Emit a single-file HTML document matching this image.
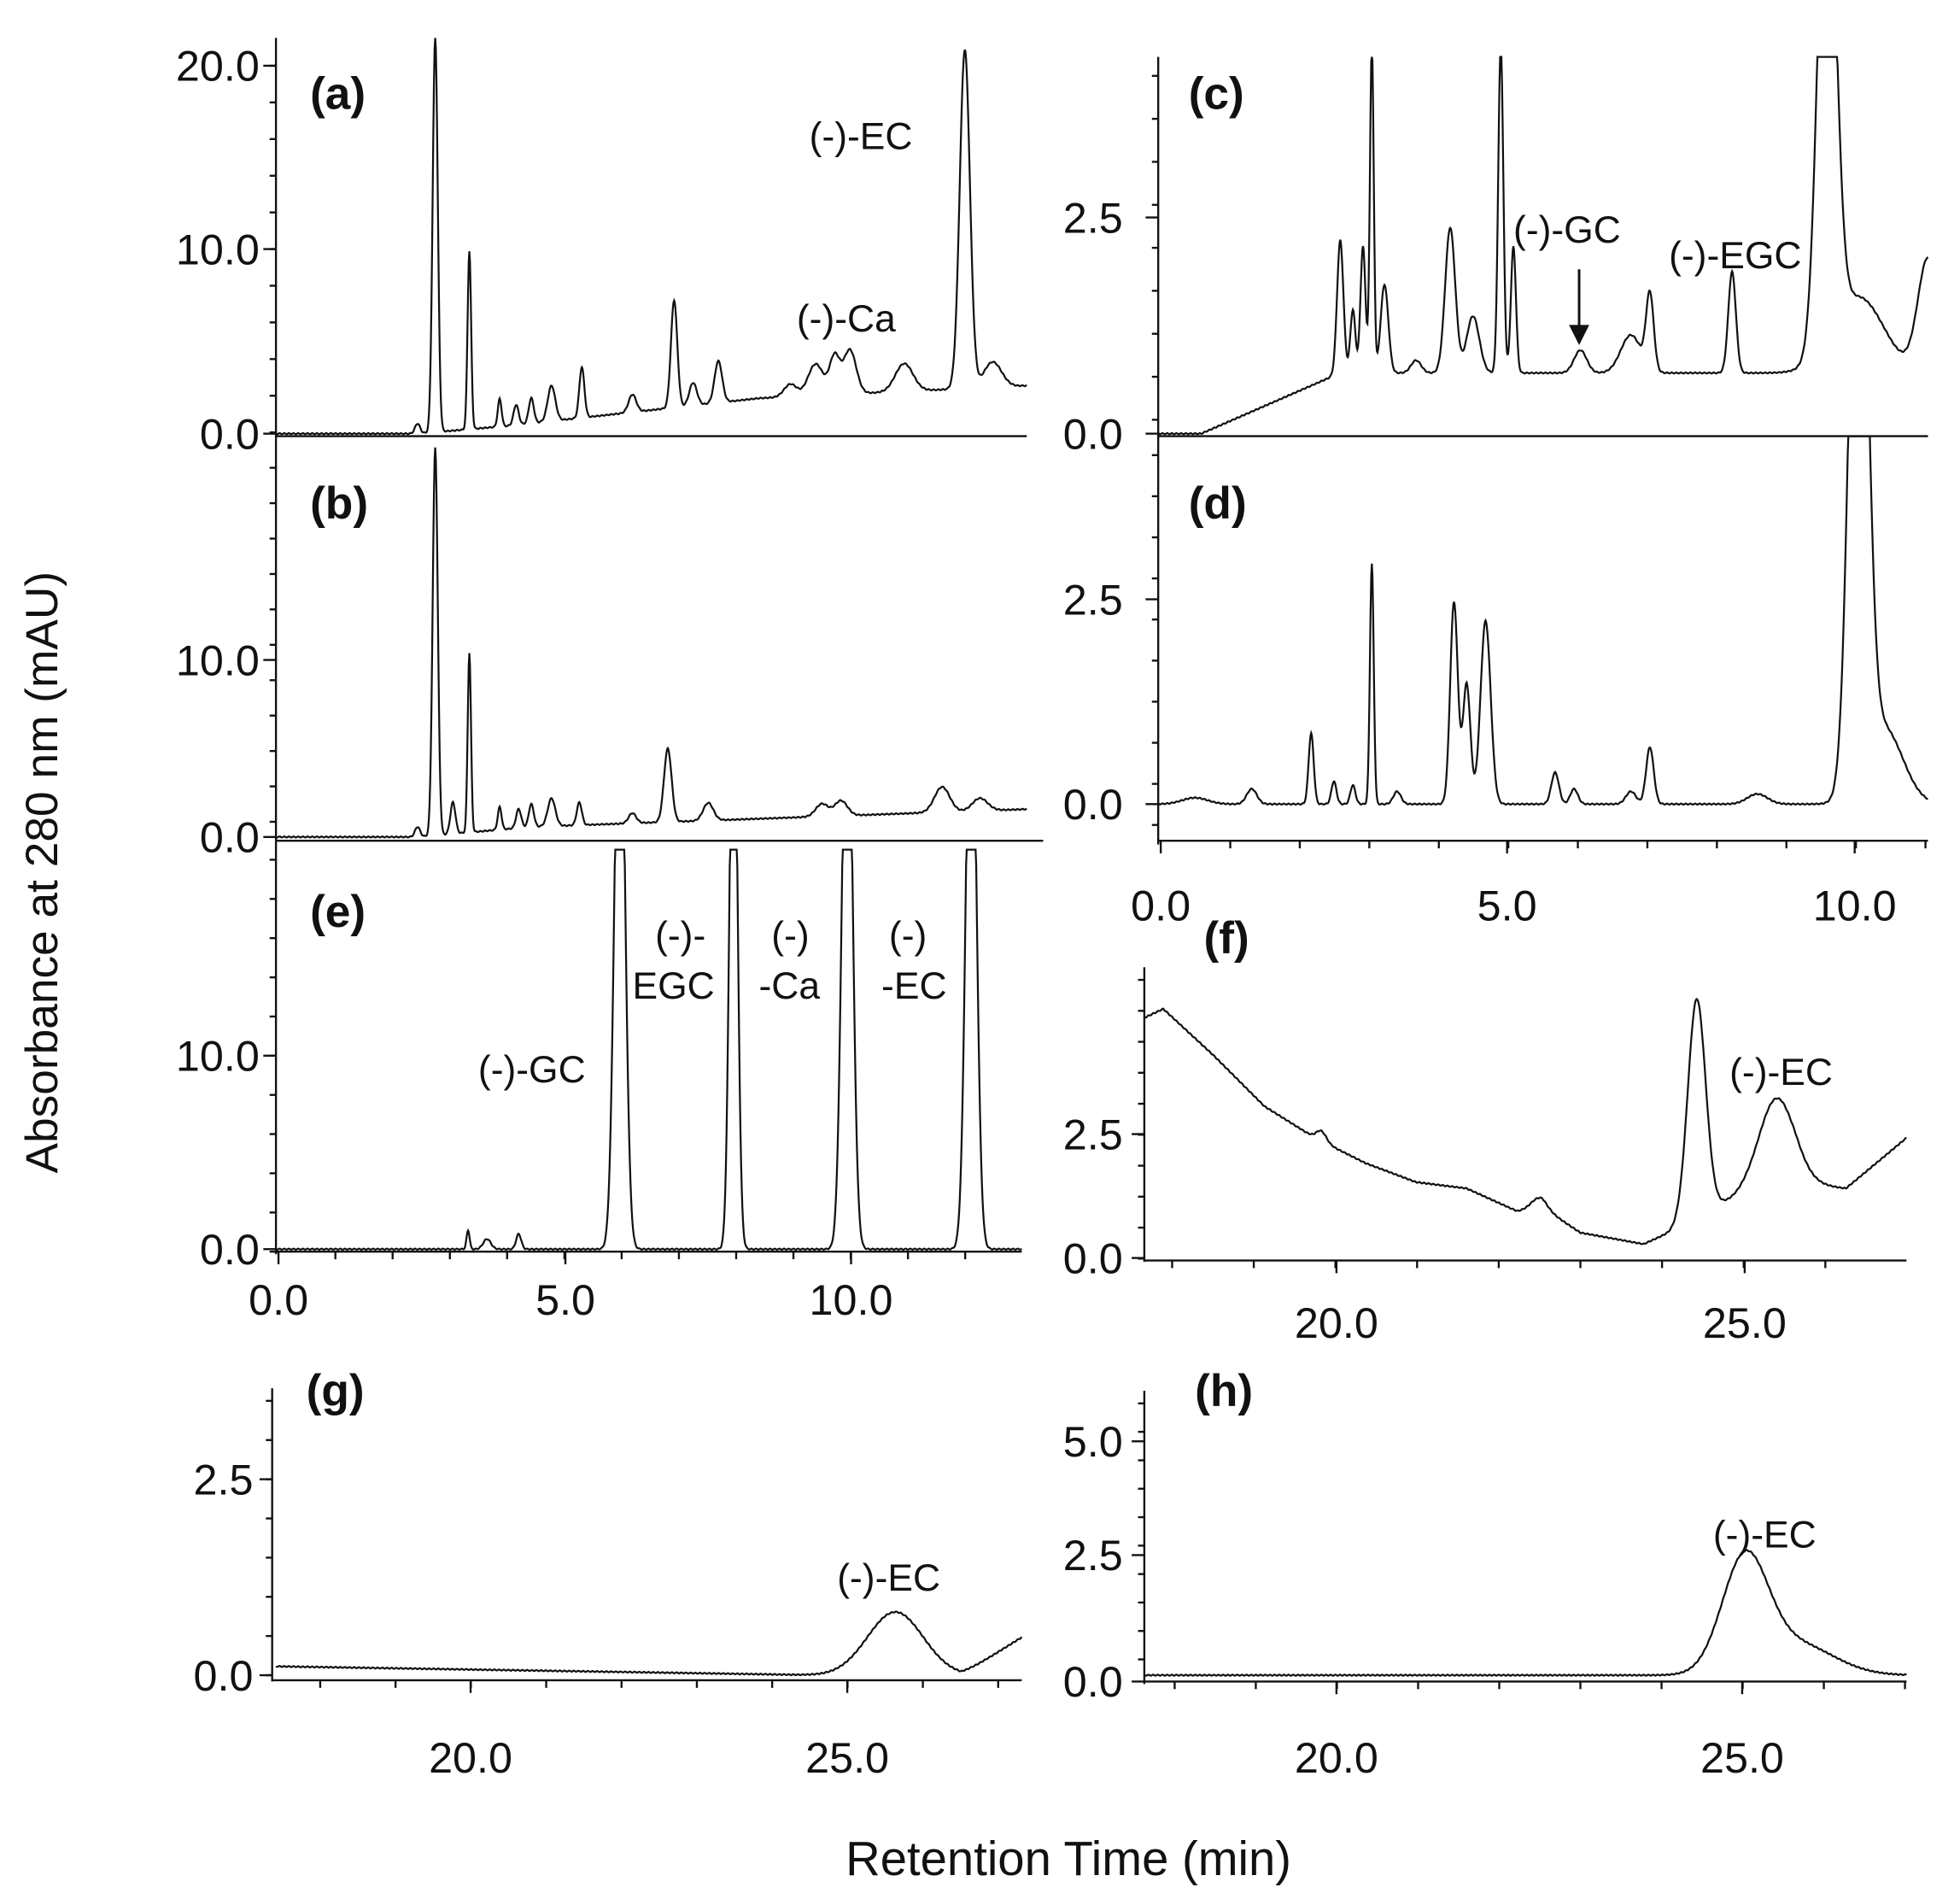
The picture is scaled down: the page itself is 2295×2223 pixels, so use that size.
<!DOCTYPE html>
<html><head><meta charset="utf-8"><style>
html,body{margin:0;padding:0;background:#fff;}
svg{display:block;}
text{font-family:"Liberation Sans",sans-serif;fill:#111;}
.t{font-size:34px;}
.l{font-size:30px;}
.p{font-size:36px;font-weight:bold;}
</style></head><body>
<svg id="s" width="2295" height="2223" viewBox="0 0 1550 1502" xmlns="http://www.w3.org/2000/svg">
<g id="axes" stroke="#111" stroke-width="1.6" fill="none"></g>
<g id="tr" stroke="#111" stroke-width="1.5" fill="none"></g>
<!-- tick labels -->
<text class="t" x="205" y="64" text-anchor="end">20.0</text>
<text class="t" x="205" y="209" text-anchor="end">10.0</text>
<text class="t" x="205" y="355" text-anchor="end">0.0</text>
<text class="t" x="205" y="534" text-anchor="end">10.0</text>
<text class="t" x="205" y="674" text-anchor="end">0.0</text>
<text class="t" x="205" y="847" text-anchor="end">10.0</text>
<text class="t" x="205" y="1000" text-anchor="end">0.0</text>
<text class="t" x="220" y="1040" text-anchor="middle">0.0</text>
<text class="t" x="447" y="1040" text-anchor="middle">5.0</text>
<text class="t" x="673" y="1040" text-anchor="middle">10.0</text>
<text class="t" x="888" y="184" text-anchor="end">2.5</text>
<text class="t" x="888" y="355" text-anchor="end">0.0</text>
<text class="t" x="888" y="486" text-anchor="end">2.5</text>
<text class="t" x="888" y="648" text-anchor="end">0.0</text>
<text class="t" x="918" y="728" text-anchor="middle">0.0</text>
<text class="t" x="1192" y="728" text-anchor="middle">5.0</text>
<text class="t" x="1467" y="728" text-anchor="middle">10.0</text>
<text class="t" x="888" y="909" text-anchor="end">2.5</text>
<text class="t" x="888" y="1007" text-anchor="end">0.0</text>
<text class="t" x="1057" y="1058" text-anchor="middle">20.0</text>
<text class="t" x="1380" y="1058" text-anchor="middle">25.0</text>
<text class="t" x="200" y="1182" text-anchor="end">2.5</text>
<text class="t" x="200" y="1337" text-anchor="end">0.0</text>
<text class="t" x="372" y="1402" text-anchor="middle">20.0</text>
<text class="t" x="670" y="1402" text-anchor="middle">25.0</text>
<text class="t" x="888" y="1152" text-anchor="end">5.0</text>
<text class="t" x="888" y="1242" text-anchor="end">2.5</text>
<text class="t" x="888" y="1342" text-anchor="end">0.0</text>
<text class="t" x="1057" y="1402" text-anchor="middle">20.0</text>
<text class="t" x="1378" y="1402" text-anchor="middle">25.0</text>
<!-- panel letters -->
<text class="p" x="245" y="86">(a)</text>
<text class="p" x="245" y="410">(b)</text>
<text class="p" x="245" y="733">(e)</text>
<text class="p" x="940" y="86">(c)</text>
<text class="p" x="940" y="410">(d)</text>
<text class="p" x="952" y="754">(f)</text>
<text class="p" x="242" y="1112">(g)</text>
<text class="p" x="945" y="1112">(h)</text>
<!-- annotations -->
<text class="l" x="640" y="118">(-)-EC</text>
<text class="l" x="630" y="262">(-)-Ca</text>
<text class="l" x="1197" y="192">(-)-GC</text>
<text class="l" x="1320" y="212">(-)-EGC</text>
<text class="l" x="518" y="750">(-)-</text>
<text class="l" x="500" y="790">EGC</text>
<text class="l" x="610" y="750">(-)</text>
<text class="l" x="600" y="790">-Ca</text>
<text class="l" x="703" y="750">(-)</text>
<text class="l" x="697" y="790">-EC</text>
<text class="l" x="378" y="856">(-)-GC</text>
<text class="l" x="1368" y="858">(-)-EC</text>
<text class="l" x="662" y="1258">(-)-EC</text>
<text class="l" x="1355" y="1224">(-)-EC</text>
<line x1="1249" y1="213" x2="1249" y2="265" stroke="#111" stroke-width="2"/>
<polygon points="1241,257 1257,257 1249,273" fill="#111"/>
<text x="45" y="690" transform="rotate(-90 45 690)" text-anchor="middle" style="font-size:36px">Absorbance at 280 nm (mAU)</text>
<text x="845" y="1483" text-anchor="middle" style="font-size:38px">Retention Time (min)</text>
</svg>
<script>
const NS="http://www.w3.org/2000/svg";
const ax=document.getElementById('axes'),tr=document.getElementById('tr');
function L(x1,y1,x2,y2,p){const e=document.createElementNS(NS,'line');e.setAttribute('x1',x1);e.setAttribute('y1',y1);e.setAttribute('x2',x2);e.setAttribute('y2',y2);(p||ax).appendChild(e);}
function yax(x,y0,y1,major,minor){L(x,y0,x,y1);major.forEach(y=>L(x-10,y,x,y));for(let y=minor[0];y<=y1;y+=minor[1])L(x-5,y,x,y);}
function xax(y,x0,x1,major,minor){L(x0,y,x1,y);major.forEach(x=>L(x,y,x,y+10));if(minor)for(let x=minor[0];x<=x1;x+=minor[1])L(x,y,x,y+6);}
// axes
yax(218,30,347,[52,197,343],[52,29]);L(218,345,812,345);
yax(218,347,665,[522,662],[370,28]);L(218,665,825,665);
yax(218,665,992,[835,988],[680,31]);xax(990,218,808,[220,447,673],[265,45.3]);
yax(916,45,347,[172,343],[60,34]);L(916,345,1525,345);
yax(916,345,668,[474,636],[360,32.5]);xax(665,916,1525,[918,1192,1467],[973,55]);
yax(905,765,998,[897,995],[775,24.5]);xax(997,905,1508,[1057,1380],[927,64.6]);
yax(215,1098,1330,[1170,1325],[1108,31]);xax(1329,215,808,[372,670],[253,59.6]);
yax(905,1100,1332,[1140,1230,1330],[1110,22.5]);xax(1330,905,1508,[1057,1378],[929,64.2]);
function trace(x0,x1,base,peaks,top,bot){let d='';for(let x=x0;x<=x1;x+=0.5){let y=base(x);peaks.forEach(p=>{y-=p[1]*Math.exp(-0.5*((x-p[0])/p[2])**2);});y+=Math.sin(x*1.7)*0.4;if(top!==undefined)y=Math.max(top,y);if(bot!==undefined)y=Math.min(bot,y);d+=(d?'L':'M')+x.toFixed(1)+' '+y.toFixed(1);}const e=document.createElementNS(NS,'path');e.setAttribute('d',d);tr.appendChild(e);}
const ramp=(x,a,b,ya,yb)=>x<=a?ya:x>=b?yb:ya+(yb-ya)*(x-a)/(b-a);
// a
trace(218,812,x=>343-ramp(x,330,400,0,6)-ramp(x,400,600,0,22)-ramp(x,600,812,0,10),
[[330,8,2],[344,313,2],[371,141,1.4],[395,22,1.5],[408,16,2],[420,20,2],[436,28,3],[460,40,2],[500,14,3],[533,85,2.5],[548,18,3],[568,33,3],[625,10,5],[645,25,6],[660,30,4],[672,35,5],[715,22,7],[763,268,4],[785,20,7]],30);
// b
trace(218,812,x=>662-ramp(x,330,420,0,8)-ramp(x,420,812,0,14),
[[330,8,2],[344,307,2],[358,25,2],[371,142,1.3],[395,18,1.5],[410,15,2],[420,18,2],[436,22,3],[458,18,2],[500,8,3],[528,58,3],[560,14,4],[650,10,5],[665,12,5],[745,20,6],[775,10,6]],350);
// e
trace(218,808,x=>988,[[370,15,1.2],[385,8,3],[410,12,2],[490,500,4],[580,500,3],[670,500,4],[768,500,4]],672);
// c
trace(916,1525,x=>343-ramp(x,950,1060,0,48)-ramp(x,1060,1525,0,0),
[[1060,105,2.5],[1070,50,2],[1078,100,2],[1085,260,1.5],[1095,70,3],[1120,10,4],[1147,115,4],[1165,45,5],[1187,260,2],[1197,100,2],[1250,18,5],[1290,30,8],[1305,60,3],[1370,80,3],[1445,420,7],[1470,60,20],[1525,90,8]],45);
// d
trace(916,1525,x=>636,[[945,5,10],[990,12,4],[1037,56,2],[1055,18,2],[1070,15,2],[1085,190,1.5],[1105,10,3],[1150,160,3],[1160,95,3],[1175,145,4],[1230,25,3],[1245,12,3],[1290,10,4],[1305,45,3],[1390,8,8],[1470,560,7],[1490,60,15]],345);
// f
trace(905,1508,x=>{const pts=[[905,805],[920,798],[960,835],[1000,875],[1040,900],[1080,920],[1120,935],[1160,940],[1200,958],[1220,955],[1250,975],[1300,984],[1320,975],[1342,960],[1380,945],[1420,935],[1460,940],[1508,900]];for(let i=0;i<pts.length-1;i++)if(x<=pts[i+1][0]){const t=(x-pts[i][0])/(pts[i+1][0]-pts[i][0]);return pts[i][1]+t*(pts[i+1][1]-pts[i][1]);}return 900;},
[[1045,8,4],[1217,8,6],[1342,170,7],[1405,70,14]],770);
// g
trace(218,808,x=>1318+ramp(x,218,650,0,7)-ramp(x,760,808,0,30),[[708,50,22]]);
// h
trace(905,1508,x=>1325,[[1380,88,18],[1420,25,30]]);
</script>
</body></html>
